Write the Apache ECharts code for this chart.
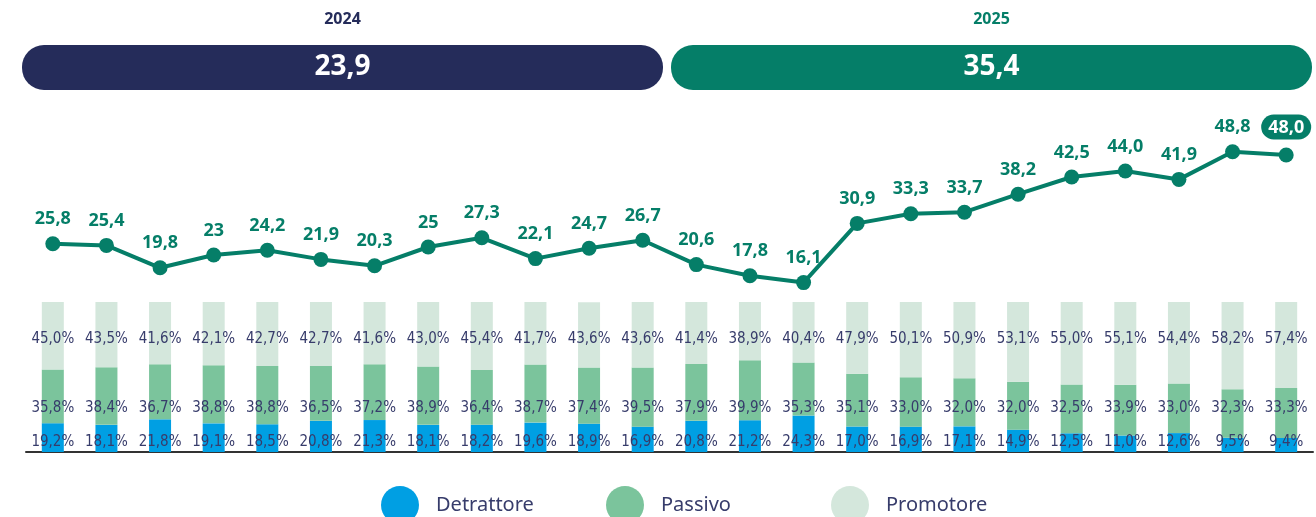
<!DOCTYPE html>
<html>
<head>
<meta charset="utf-8">
<script src="https://cdn.jsdelivr.net/npm/echarts@6/dist/echarts.min.js"></script>
<style>
  html, body { margin: 0; padding: 0; background: #fff; }
  #chart { width: 1316px; height: 517px; }
</style>
</head>
<body>
<div id="chart"></div>
<script>
// dati
const years = ['2024', '2025'];
const yearScores = ['23,9', '35,4'];
const months = ['gen 24','feb 24','mar 24','apr 24','mag 24','giu 24','lug 24','ago 24','set 24','ott 24','nov 24','dic 24',
                'gen 25','feb 25','mar 25','apr 25','mag 25','giu 25','lug 25','ago 25','set 25','ott 25','nov 25','dic 25'];
const npsLabels = ['25,8','25,4','19,8','23','24,2','21,9','20,3','25','27,3','22,1','24,7','26,7',
                   '20,6','17,8','16,1','30,9','33,3','33,7','38,2','42,5','44,0','41,9','48,8','48,0'];
const detrattore = [19.2,18.1,21.8,19.1,18.5,20.8,21.3,18.1,18.2,19.6,18.9,16.9,
                    20.8,21.2,24.3,17.0,16.9,17.1,14.9,12.5,11.0,12.6,9.5,9.4];
const passivo = [35.8,38.4,36.7,38.8,38.8,36.5,37.2,38.9,36.4,38.7,37.4,39.5,
                 37.9,39.9,35.3,35.1,33.0,32.0,32.0,32.5,33.9,33.0,32.3,33.3];
const promotore = [45.0,43.5,41.6,42.1,42.7,42.7,41.6,43.0,45.4,41.7,43.6,43.6,
                   41.4,38.9,40.4,47.9,50.1,50.9,53.1,55.0,55.1,54.4,58.2,57.4];
const legendNames = ['Detrattore', 'Passivo', 'Promotore'];

const npsValues = npsLabels.map(s => parseFloat(s.replace(',', '.')));
const pct = v => v.toFixed(1).replace('.', ',') + '%';

const navy = '#252c5a';
const green = '#057e68';
const textNavy = '#373c6b';

// griglia barre
const barTop = 302, barH = 150;
const rowY = f => barTop + barH * (1 - f);

function barSeries(name, data, color, labelFrac) {
  return {
    name: name,
    type: 'bar',
    stack: 'nps',
    xAxisIndex: 0,
    yAxisIndex: 0,
    barWidth: 22,
    data: data,
    itemStyle: { color: color },
    label: {
      show: true,
      position: 'inside',
      formatter: p => pct(p.value),
      color: textNavy,
      fontFamily: '"DejaVu Sans Condensed", "DejaVu Sans", sans-serif',
      fontSize: 15
    },
    labelLayout: () => ({ y: rowY(labelFrac), align: 'center', verticalAlign: 'middle' })
  };
}

// una legenda per voce, passo fisso
const legends = legendNames.map((n, i) => ({
  left: 376 + i * 225,
  top: 481,
  icon: 'circle',
  itemWidth: 38,
  itemHeight: 38,
  data: [n],
  textStyle: {
    color: textNavy,
    fontFamily: '"Noto Sans", sans-serif',
    fontSize: 20,
    padding: [0, 0, 0, 12]
  }
}));

const chart = echarts.init(document.getElementById('chart'));

const lineData = npsValues.map((v, i) => {
  if (i === npsValues.length - 1) {
    return {
      value: v,
      label: {
        color: '#fff',
        backgroundColor: green,
        borderRadius: 13,
        padding: [4, 7, 3, 7]
      }
    };
  }
  return v;
});

chart.setOption({
  animation: false,
  grid: [
    { left: 26, right: 3, top: barTop, height: barH },
    { left: 26, right: 3, top: 127, bottom: 170 },
    { left: 18, right: 0, top: 45, height: 45 }
  ],
  xAxis: [
    {
      type: 'category', gridIndex: 0, data: months,
      axisLine: { show: true, lineStyle: { color: '#333', width: 2 } },
      axisTick: { show: false }, axisLabel: { show: false }
    },
    {
      type: 'category', gridIndex: 1, data: months, show: false
    },
    {
      type: 'category', gridIndex: 2, data: years, position: 'top',
      axisLine: { show: false }, axisTick: { show: false },
      axisLabel: {
        margin: 18,
        fontFamily: '"Noto Sans", sans-serif',
        fontWeight: 'bold',
        fontSize: 16,
        color: (v, i) => (i === 0 ? navy : green)
      }
    }
  ],
  yAxis: [
    { type: 'value', gridIndex: 0, min: 0, max: 100, show: false },
    { type: 'value', gridIndex: 1, min: 0, max: 55, show: false },
    { type: 'value', gridIndex: 2, min: 0, max: 1, show: false }
  ],
  legend: legends,
  series: [
    barSeries('Detrattore', detrattore, '#009fe3', 0.063),
    barSeries('Passivo', passivo, '#7bc49c', 0.29),
    barSeries('Promotore', promotore, '#d4e7dc', 0.75),
    {
      name: 'NPS',
      type: 'line',
      xAxisIndex: 1,
      yAxisIndex: 1,
      data: lineData,
      symbol: 'circle',
      symbolSize: 15,
      lineStyle: { color: green, width: 4 },
      itemStyle: { color: green },
      label: {
        show: true,
        position: 'top',
        distance: 8,
        formatter: p => npsLabels[p.dataIndex],
        color: green,
        fontFamily: '"Noto Sans", sans-serif',
        fontWeight: 'bold',
        fontSize: 18
      },
      z: 5
    },
    {
      name: 'anno',
      type: 'bar',
      xAxisIndex: 2,
      yAxisIndex: 2,
      barWidth: 641,
      data: years.map((y, i) => ({ value: 1, itemStyle: { color: i === 0 ? navy : green } })),
      itemStyle: { borderRadius: 22 },
      label: {
        show: true,
        position: 'inside',
        formatter: p => yearScores[p.dataIndex],
        color: '#fff',
        fontFamily: '"Noto Sans", sans-serif',
        fontWeight: 'bold',
        fontSize: 28
      }
    }
  ]
});
</script>
</body>
</html>
